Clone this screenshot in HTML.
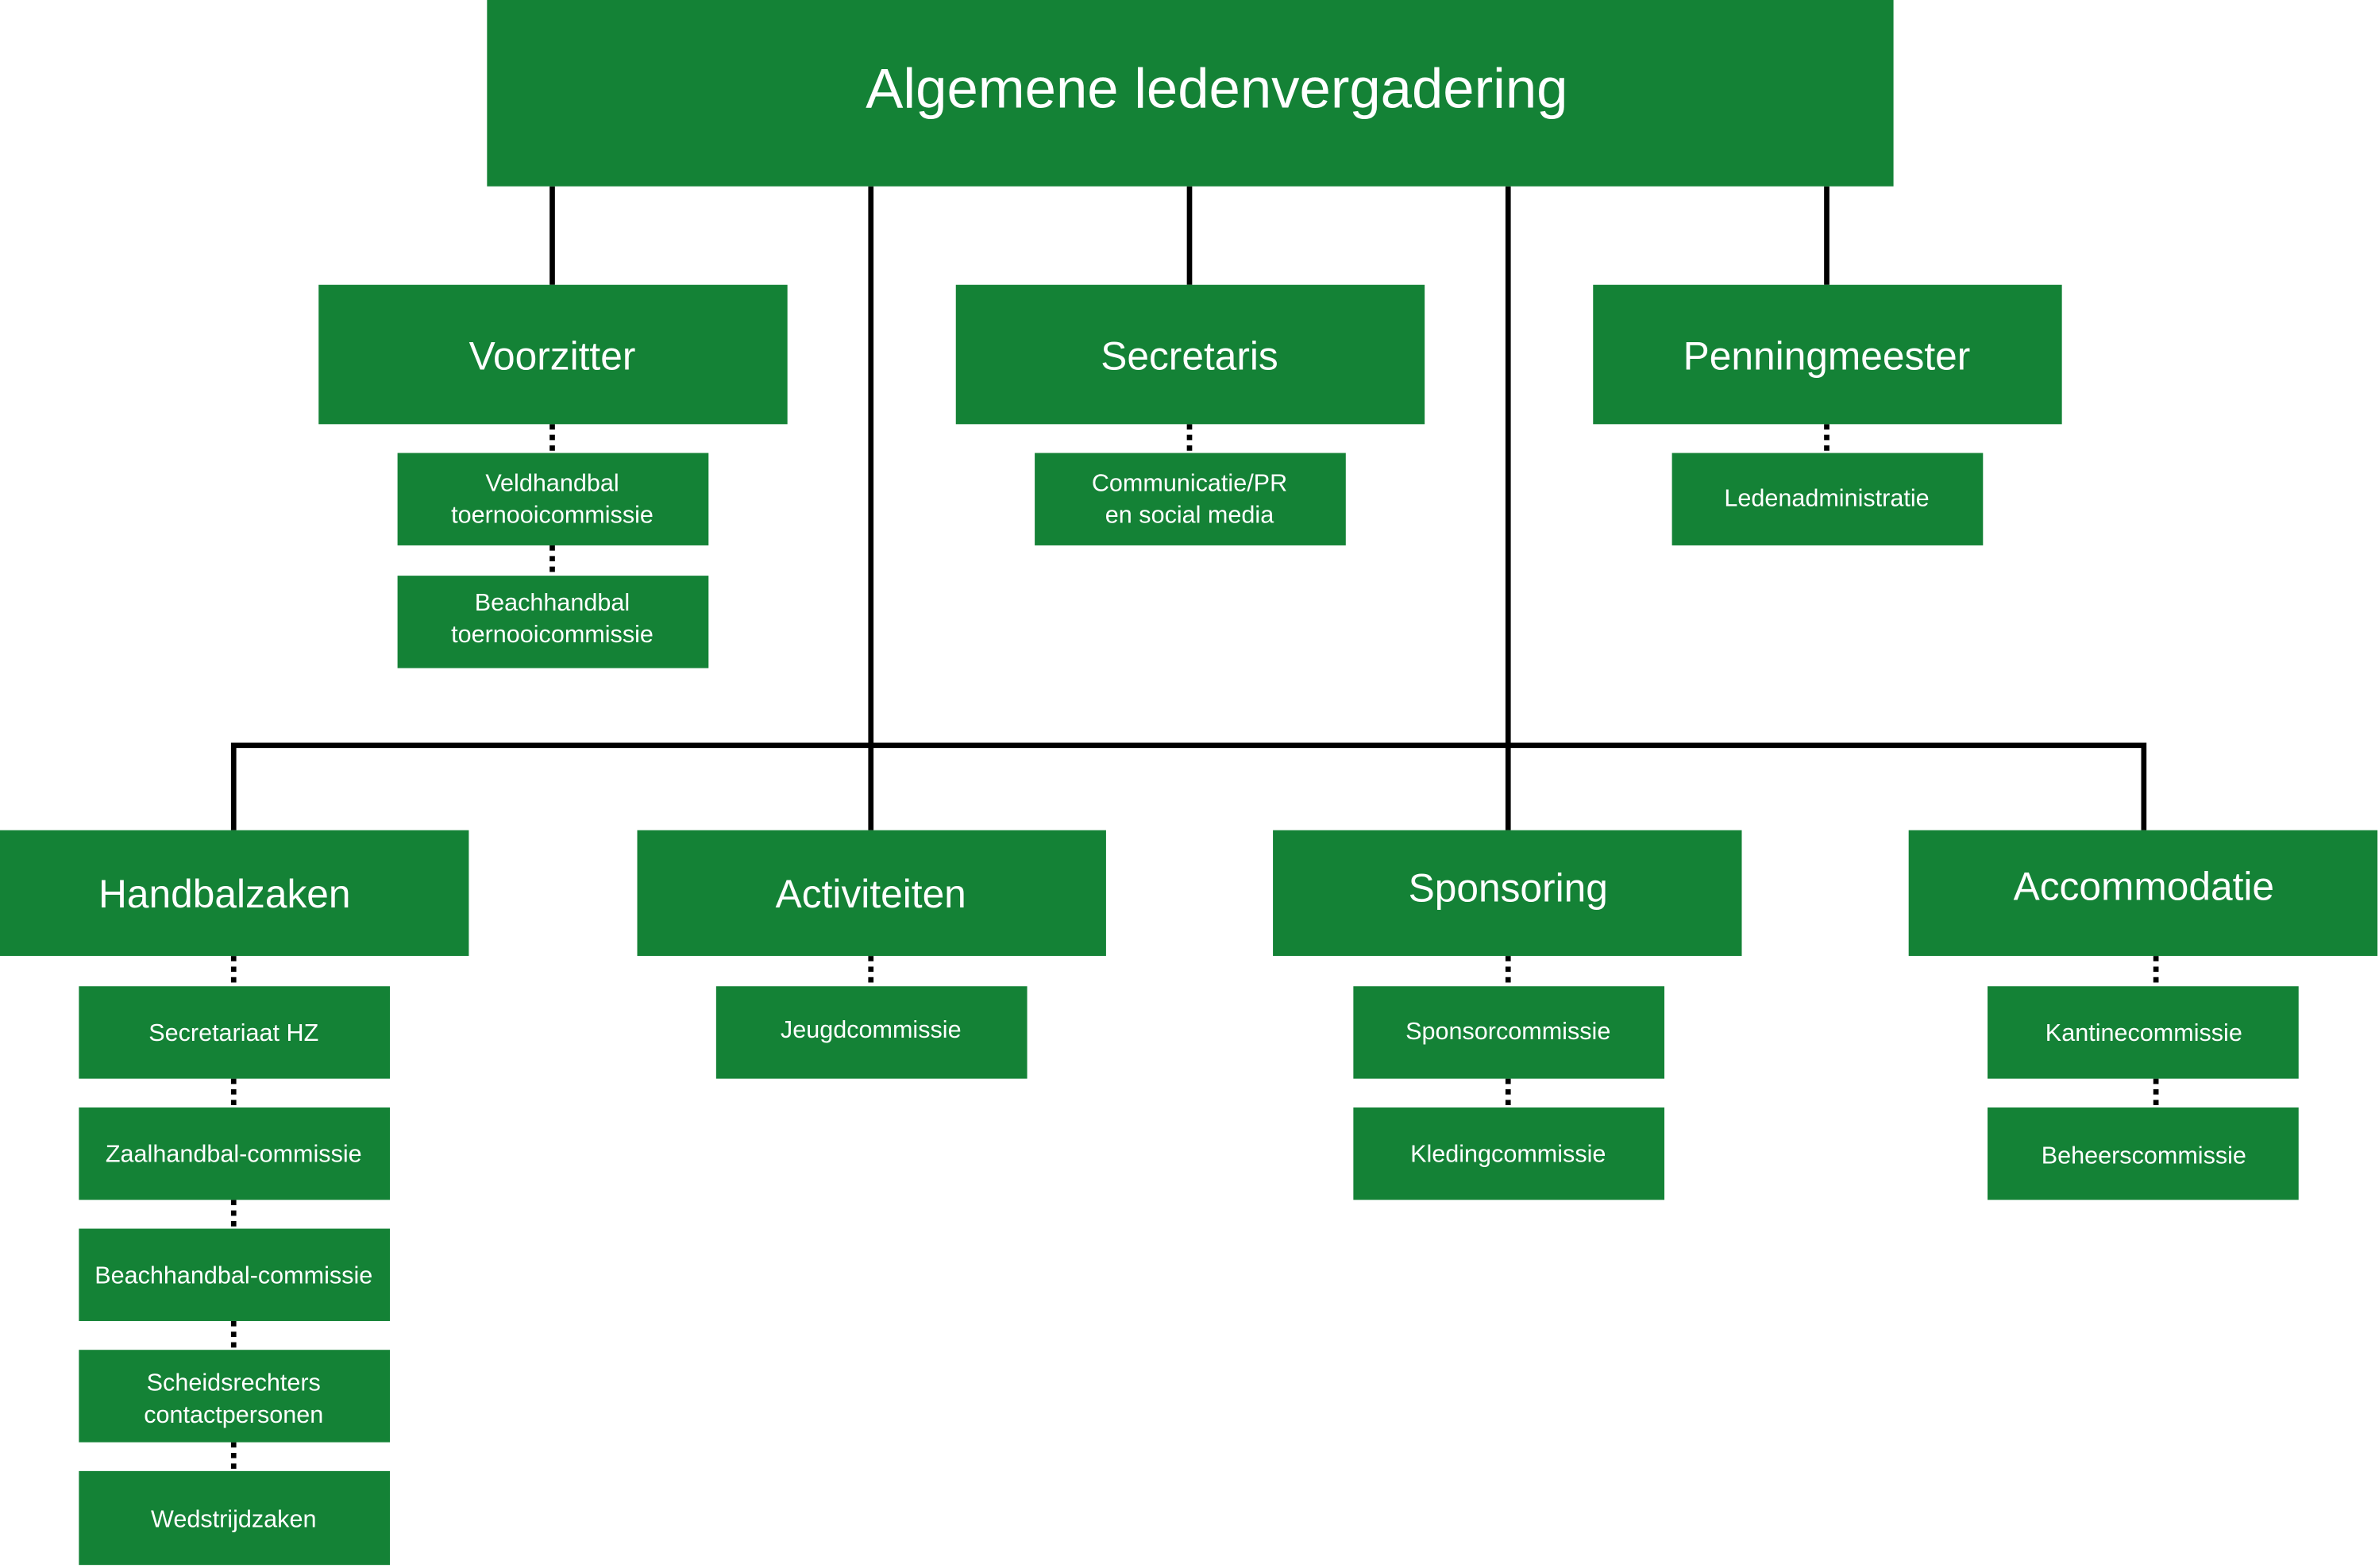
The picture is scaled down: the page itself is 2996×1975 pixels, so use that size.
<!DOCTYPE html><html><head><style>body{margin:0;background:#fff}svg{display:block}text{font-family:"Liberation Sans",sans-serif;fill:#fff;text-anchor:middle}</style></head><body>
<svg width="2996" height="1975" viewBox="0 0 1568 1035" preserveAspectRatio="none">
<g stroke="#000" stroke-width="3.5" fill="none">
<path d="M364 123V188M574 123V548M784 123V188M994 123V548M1204 123V188M154 548V492H1413V548"/>
</g>
<g stroke="#000" stroke-width="3.5" stroke-dasharray="3.5 3.5" fill="none">
<path d="M364 280V299M364 360V380M784 280V299M1204 280V299M154 631V651M154 712V731M154 792V811M154 872V891M154 952V971M574 631V651M994 631V651M994 712V731M1421 631V651M1421 712V731"/>
</g>
<g fill="#148236">
<rect x="321" y="0" width="927" height="123"/>
<rect x="210" y="188" width="309" height="92"/><rect x="630" y="188" width="309" height="92"/><rect x="1050" y="188" width="309" height="92"/>
<rect x="262" y="299" width="205" height="61"/><rect x="262" y="380" width="205" height="61"/>
<rect x="682" y="299" width="205" height="61"/><rect x="1102" y="299" width="205" height="61"/>
<rect x="0" y="548" width="309" height="83"/><rect x="420" y="548" width="309" height="83"/><rect x="839" y="548" width="309" height="83"/><rect x="1258" y="548" width="309" height="83"/>
<rect x="52" y="651" width="205" height="61"/><rect x="52" y="731" width="205" height="61"/><rect x="52" y="811" width="205" height="61"/><rect x="52" y="891" width="205" height="61"/><rect x="52" y="971" width="205" height="62"/>
<rect x="472" y="651" width="205" height="61"/>
<rect x="892" y="651" width="205" height="61"/><rect x="892" y="731" width="205" height="61"/>
<rect x="1310" y="651" width="205" height="61"/><rect x="1310" y="731" width="205" height="61"/>
</g>
<text x="802" y="71" font-size="37">Algemene ledenvergadering</text>
<g font-size="26"><text x="364" y="244">Voorzitter</text><text x="784" y="244">Secretaris</text><text x="1204" y="244">Penningmeester</text>
<text x="148" y="599">Handbalzaken</text><text x="574" y="599">Activiteiten</text><text x="994" y="595">Sponsoring</text><text x="1413" y="594">Accommodatie</text></g>
<g font-size="16">
<text x="364" y="324">Veldhandbal</text><text x="364" y="345">toernooicommissie</text>
<text x="364" y="403">Beachhandbal</text><text x="364" y="424">toernooicommissie</text>
<text x="784" y="324">Communicatie/PR</text><text x="784" y="345">en social media</text>
<text x="1204" y="334">Ledenadministratie</text>
<text x="154" y="687">Secretariaat HZ</text><text x="154" y="767">Zaalhandbal-commissie</text><text x="154" y="847">Beachhandbal-commissie</text>
<text x="154" y="918">Scheidsrechters</text><text x="154" y="939">contactpersonen</text><text x="154" y="1008">Wedstrijdzaken</text>
<text x="574" y="685">Jeugdcommissie</text>
<text x="994" y="686">Sponsorcommissie</text><text x="994" y="767">Kledingcommissie</text>
<text x="1413" y="687">Kantinecommissie</text><text x="1413" y="768">Beheerscommissie</text>
</g>
</svg></body></html>
